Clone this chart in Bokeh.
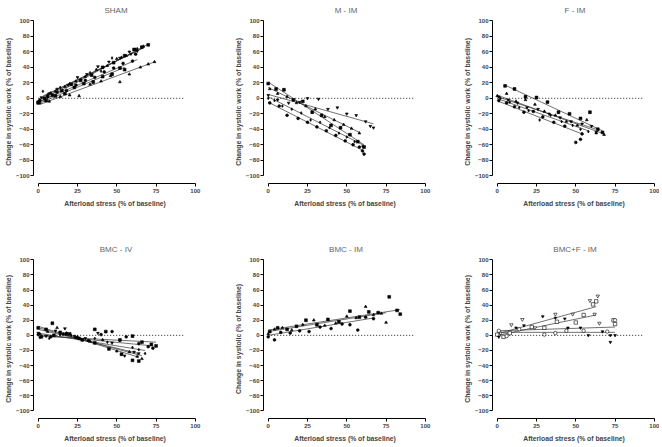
from bokeh.plotting import figure
from bokeh.layouts import gridplot
from bokeh.models import Range1d, FixedTicker
from bokeh.embed import file_html
from bokeh.resources import INLINE

# ---------------- data ----------------
X_TICKS = [0, 25, 50, 75, 100]
Y_TICKS = [-100, -80, -60, -40, -20, 0, 20, 40, 60, 80, 100]
ZERO_LINE_X = [0, 93]
ZERO_LINE_Y = [0, 0]

TITLES = ["SHAM", "M - IM", "F - IM", "BMC - IV", "BMC - IM", "BMC+F - IM"]
X_LABEL = "Afterload stress (%  of baseline)"
Y_LABEL = "Change in systolic work (%  of baseline)"
Y_LABEL_BMC_IM = "Change in systolic (%  of baseline)"

# SHAM
SHAM_X = [
    [0, 4, 9, 15, 21, 27, 34, 41, 48, 55, 61, 66, 70],
    [1, 6, 11, 17, 24, 30, 37, 44, 50, 56, 62, 67],
    [2, 7, 12, 19, 25, 31, 38, 45, 52, 58, 63, 66],
    [3, 8, 14, 20, 27, 33, 40, 47, 53, 59, 63],
    [1, 6, 12, 18, 24, 30, 36, 42, 48, 54, 60, 62],
    [0, 5, 11, 17, 23, 29, 35, 41, 47, 52, 55],
    [1, 7, 14, 20, 26, 33, 40, 46, 52, 58, 65, 70, 74],
]
SHAM_Y = [
    [-5, 0, 4, 10, 18, 23, 30, 40, 46, 55, 63, 66, 69],
    [-2, 4, 9, 15, 22, 28, 37, 42, 51, 55, 63, 67],
    [1, 6, 12, 17, 27, 31, 41, 47, 52, 60, 61, 66],
    [9, 7, 14, 19, 24, 33, 35, 52, 53, 57, 64],
    [-3, 2, 8, 10, 17, 23, 27, 34, 39, 45, 48, 57],
    [-6, -3, 3, 6, 14, 19, 21, 28, 31, 39, 37],
    [-6, -4, 2, 4, 3, 18, 22, 29, 21, 31, 40, 44, 47],
]
SHAM_FIT = [(0, -6, 70, 70), (0, -3, 68, 67), (2, 1, 66, 64), (3, 3, 62, 60),
            (1, -4, 63, 50), (0, -7, 55, 40), (1, -8, 74, 47)]
SHAM_MARK = ["square", "triangle", "inverted_triangle", "diamond", "circle", "square", "triangle"]
SHAM_OPEN = [False] * 7

# M - IM
MIM_X = [
    [0, 5, 10, 16, 22, 28, 34, 40, 46, 52, 57, 61],
    [1, 6, 12, 18, 24, 30, 36, 42, 48, 53, 58],
    [0, 6, 13, 20, 25, 32, 38, 44, 50, 56, 62, 65, 67],
    [0, 4, 9, 15, 21, 27, 33, 39, 45, 50, 55, 60],
    [1, 7, 12, 19, 25, 31, 37, 43, 49, 54, 58, 60, 61],
]
MIM_Y = [
    [19, 12, 11, -2, -4, -18, -22, -35, -38, -47, -56, -63],
    [12, 6, 2, -6, -10, -14, -24, -28, -34, -39, -45],
    [4, -2, -6, -5, 0, -1, -14, -12, -20, -22, -30, -36, -38],
    [0, -3, -10, -14, -19, -28, -31, -38, -45, -50, -56, -62],
    [-6, -10, -22, -26, -31, -37, -42, -48, -55, -60, -63, -68, -72],
]
MIM_FIT = [(0, 21, 61, -60), (0, 14, 58, -44), (0, 5, 67, -33), (0, 2, 62, -62), (0, -5, 60, -67)]
MIM_MARK = ["square", "triangle", "inverted_triangle", "diamond", "circle"]
MIM_OPEN = [False] * 5

# F - IM
FIM_X = [
    [5, 11, 18, 25, 32, 39, 46, 53, 59, 64, 67],
    [0, 6, 12, 18, 24, 30, 37, 44, 51, 57, 63, 68],
    [1, 7, 13, 19, 26, 33, 40, 47, 54, 60, 63],
    [2, 8, 14, 20, 27, 34, 41, 48, 53, 58],
    [1, 6, 11, 17, 23, 29, 36, 43, 50, 53, 54],
]
FIM_Y = [
    [16, 12, 2, 1, -5, -18, -20, -26, -18, -40, -44],
    [3, 6, -4, -2, -8, -17, -22, -30, -35, -28, -45, -47],
    [2, -2, -6, -12, -14, -20, -25, -30, -33, -36, -44],
    [0, -5, -12, -16, -28, -22, -30, -35, -40, -43],
    [-3, -6, -11, -18, -17, -24, -31, -36, -57, -53, -46],
]
FIM_FIT = [(5, 17, 67, -42), (0, 4, 68, -46), (0, 2, 63, -40), (1, -1, 58, -42), (1, -4, 54, -46)]
FIM_MARK = ["square", "triangle", "inverted_triangle", "diamond", "circle"]
FIM_OPEN = [False] * 5

# BMC - IV
BIV_X = [
    [0, 5, 9, 14, 20, 28, 36, 45, 53, 60, 64],
    [1, 6, 12, 18, 25, 33, 41, 50, 58, 63, 66],
    [0, 5, 11, 17, 23, 30, 38, 47, 55, 61, 64],
    [1, 7, 14, 21, 28, 36, 44, 52, 60, 64, 68],
    [0, 8, 16, 24, 32, 40, 47, 56, 64, 70, 73],
    [2, 10, 18, 26, 36, 43, 52, 60, 66, 72, 75],
]
BIV_Y = [
    [10, 8, 16, 4, 2, -6, -10, -18, -25, -33, -34],
    [2, 5, 10, 3, -2, -8, -6, -21, -22, -28, -31],
    [3, -1, 6, 9, -1, -4, 3, -10, -27, -22, -24],
    [-3, -4, 1, 0, -6, -4, -9, -7, -16, -19, -24],
    [1, -2, 2, -3, -7, 1, 5, -2, -11, -15, -17],
    [-2, 0, 2, -4, 8, 5, -6, -1, -9, -12, -14],
]
BIV_FIT = [(0, 12, 64, -29), (0, 10, 66, -27), (0, 8, 64, -24), (0, 3, 68, -20),
           (0, 1, 73, -14), (0, -1, 75, -9)]
BIV_MARK = ["square", "triangle", "inverted_triangle", "diamond", "circle", "square"]
BIV_OPEN = [False] * 6

# BMC - IM
BIM_X = [
    [1, 6, 12, 18, 24, 31, 38, 45, 52, 58, 64, 70, 77, 82, 84],
    [0, 4, 9, 15, 22, 29, 36, 43, 50, 56, 62, 67, 72, 75],
    [0, 4, 8, 14, 20, 26, 33, 40, 47, 52, 57, 62, 67],
]
BIM_Y = [
    [5, 10, 8, 12, 20, 14, 21, 18, 32, 24, 31, 30, 51, 33, 28],
    [2, 8, 10, 7, 14, 20, 13, 16, 25, 23, 38, 27, 29, 17],
    [-2, -6, 4, 3, 6, 5, 11, 9, 15, 14, 7, 24, 22],
]
BIM_FIT = [(0, 7, 84, 34), (0, 5, 75, 30), (0, 0, 67, 23)]
BIM_MARK = ["square", "triangle", "circle"]
BIM_OPEN = [False] * 3

# BMC+F - IM
BFM_X = [
    [2, 9, 16, 24, 37, 48, 59, 62, 64, 65],
    [0, 4, 8, 22, 30, 38, 50, 55, 61, 63, 74, 75],
    [1, 6, 14, 30, 37, 44, 55, 70, 75],
    [1, 12, 17, 29, 37, 43, 45, 53, 58, 67, 72, 72, 75],
]
BFM_Y = [
    [3, 14, 21, 10, 28, 28, 46, 28, 52, 16],
    [1, -2, 3, 11, 10, 18, 17, 27, 41, 45, 20, 15],
    [6, -1, 8, 1, 3, 6, 6, 5, 20],
    [-2, 10, 13, 25, 23, 22, 10, 10, 0, 5, 0, -9, 0],
]
BFM_FIT = [(0, 2, 63, 38), (0, 0, 63, 27), (0, 6, 75, 11), (0, 4, 75, 4)]
BFM_MARK = ["inverted_triangle", "square", "circle", "inverted_triangle"]
BFM_OPEN = [True, True, True, False]

FONT = "Liberation Sans"


def make_panel(title, ylab, xs, ys, fits, marks, opens, w, h, b_right, b_bottom):
    p = figure(width=w, height=h,
               x_range=Range1d(-3, 102), y_range=Range1d(-110, 103),
               output_backend="svg", toolbar_location=None, tools="",
               min_border_left=33, min_border_right=b_right,
               min_border_top=17, min_border_bottom=b_bottom)
    p.title.text = title
    p.title.align = "center"
    p.title.text_font = FONT
    p.title.text_font_size = "8px"
    p.title.text_font_style = "normal"
    p.title.text_color = "#666666"
    p.title.standoff = 7
    p.xgrid.visible = False
    p.ygrid.visible = False
    p.outline_line_color = None
    p.background_fill_color = "white"
    p.border_fill_color = "white"

    p.xaxis.ticker = FixedTicker(ticks=X_TICKS)
    p.yaxis.ticker = FixedTicker(ticks=Y_TICKS)
    p.xaxis.bounds = (X_TICKS[0], X_TICKS[-1])
    p.yaxis.bounds = (Y_TICKS[0], Y_TICKS[-1])
    p.xaxis.axis_label = X_LABEL
    p.yaxis.axis_label = ylab
    for ax in (p.xaxis, p.yaxis):
        ax.axis_line_color = "black"
        ax.axis_line_width = 1
        ax.major_tick_line_color = "black"
        ax.major_tick_out = 3
        ax.major_tick_in = 0
        ax.minor_tick_line_color = None
        ax.major_label_text_font = FONT
        ax.major_label_text_font_size = "6px"
        ax.major_label_text_font_style = "bold"
        ax.axis_label_text_font = FONT
        ax.axis_label_text_font_size = "6.8px"
        ax.axis_label_text_font_style = "bold"
    p.xaxis.major_label_standoff = 2
    p.xaxis.axis_label_standoff = 4
    p.yaxis.major_label_standoff = 1
    p.yaxis.axis_label_standoff = 1

    p.line(ZERO_LINE_X, ZERO_LINE_Y, line_color="#222222", line_width=1, line_dash="1 2")

    p.segment(x0=[f[0] for f in fits], y0=[f[1] for f in fits],
              x1=[f[2] for f in fits], y1=[f[3] for f in fits],
              line_color="#333333", line_width=0.7)

    for x, y, m, o in zip(xs, ys, marks, opens):
        p.scatter(x, y, marker=m, size=3.4 if o else 2.8,
                  fill_color="white" if o else "black",
                  line_color="black", line_width=0.6)
    return p


H1 = 17 + 166 + 56
H2 = 17 + 166 + 22
p1 = make_panel(TITLES[0], Y_LABEL, SHAM_X, SHAM_Y, SHAM_FIT, SHAM_MARK, SHAM_OPEN, 230, H1, 32, 56)
p2 = make_panel(TITLES[1], Y_LABEL, MIM_X, MIM_Y, MIM_FIT, MIM_MARK, MIM_OPEN, 229, H1, 31, 56)
p3 = make_panel(TITLES[2], Y_LABEL, FIM_X, FIM_Y, FIM_FIT, FIM_MARK, FIM_OPEN, 200, H1, 2, 56)
p4 = make_panel(TITLES[3], Y_LABEL, BIV_X, BIV_Y, BIV_FIT, BIV_MARK, BIV_OPEN, 230, H2, 32, 22)
p5 = make_panel(TITLES[4], Y_LABEL_BMC_IM, BIM_X, BIM_Y, BIM_FIT, BIM_MARK, BIM_OPEN, 229, H2, 31, 22)
p6 = make_panel(TITLES[5], Y_LABEL, BFM_X, BFM_Y, BFM_FIT, BFM_MARK, BFM_OPEN, 200, H2, 2, 22)

grid = gridplot([[p1, p2, p3], [p4, p5, p6]], toolbar_location=None)

open("out.html", "w").write(file_html(grid, INLINE))
